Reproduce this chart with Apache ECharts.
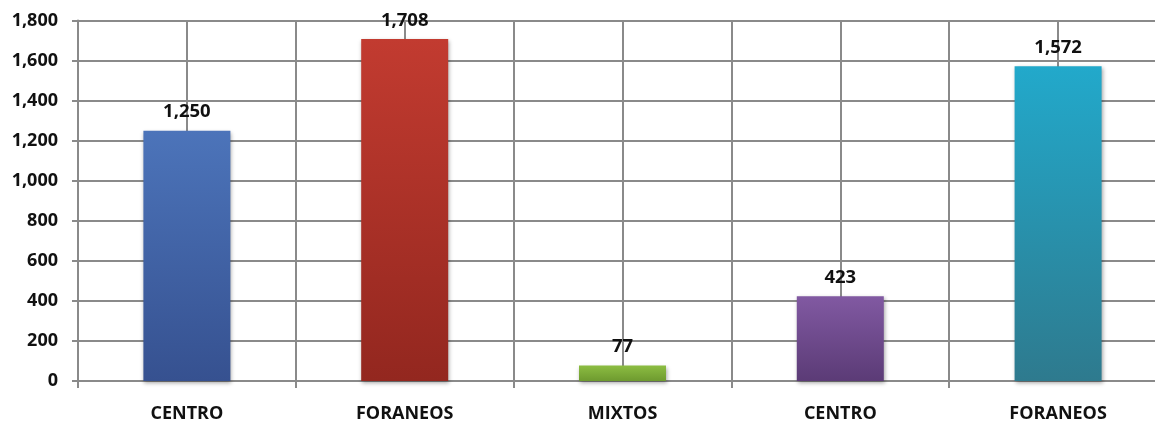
<!DOCTYPE html>
<html><head><meta charset="utf-8">
<script src="https://cdn.jsdelivr.net/npm/echarts@6/dist/echarts.min.js"></script>
<style>html,body{margin:0;padding:0;background:#fff;overflow:hidden}#c{width:1167px;height:425px}</style>
</head><body><div id="c"></div>
<script>
var categories = ['CENTRO', 'FORANEOS', 'MIXTOS', 'CENTRO', 'FORANEOS'];
var values = [1250, 1708, 77, 423, 1572];
var topColors = ['#4c74ba', '#c23b30', '#8cbd42', '#8159a2', '#22a9cb'];
var bottomColors = ['#365190', '#93271f', '#6e9a2f', '#5b3b76', '#2e7a8e'];
var yTicks = [0, 200, 400, 600, 800, 1000, 1200, 1400, 1600, 1800];

var fmt = function (v) { return Number(v).toLocaleString('en-US'); };
var font = '"Open Sans", "Liberation Sans", sans-serif';
var gridColor = '#8a8a8a';

var chart = echarts.init(document.getElementById('c'));
chart.setOption({
  animation: false,
  grid: { left: 78, top: 20.5, right: 0, bottom: 44, containLabel: false },
  xAxis: [{
    type: 'category', data: categories, boundaryGap: true,
    axisLine: { lineStyle: { color: gridColor, width: 2 } },
    axisTick: { show: true, length: 7, lineStyle: { color: gridColor, width: 2 } },
    splitLine: { show: false },
    axisLabel: { margin: 24, color: '#111', fontSize: 18, fontWeight: 'bold', fontFamily: font }
  }, {
    type: 'value', min: 0, max: 10, interval: 1, show: true, position: 'bottom',
    axisLine: { show: false }, axisTick: { show: false }, axisLabel: { show: false },
    splitLine: { show: true, lineStyle: { color: gridColor, width: 2 } }
  }],
  yAxis: {
    type: 'value', min: 0, max: 1800, interval: 200,
    axisLine: { show: true, lineStyle: { color: gridColor, width: 2 } },
    axisTick: { show: true, length: 6, lineStyle: { color: gridColor, width: 2 } },
    splitLine: { show: true, lineStyle: { color: gridColor, width: 2 } },
    axisLabel: { margin: 20, color: '#111', fontSize: 18, fontWeight: 'bold', fontFamily: font,
      formatter: function (v) { return fmt(v); } }
  },
  series: [{
    type: 'bar', xAxisIndex: 0, barWidth: 87, z: 3,
    data: values.map(function (v, i) {
      return { value: v, itemStyle: {
        color: new echarts.graphic.LinearGradient(0, 0, 0, 1, [
          { offset: 0, color: topColors[i] }, { offset: 1, color: bottomColors[i] }
        ]),
        shadowColor: 'rgba(0,0,0,0.35)', shadowBlur: 4, shadowOffsetX: 1, shadowOffsetY: 2
      } };
    }),
    label: { show: true, position: 'top', distance: 9, color: '#111', fontSize: 18.5,
      fontWeight: 'bold', fontFamily: font, formatter: function (p) { return fmt(p.value); } }
  }]
});
</script></body></html>
